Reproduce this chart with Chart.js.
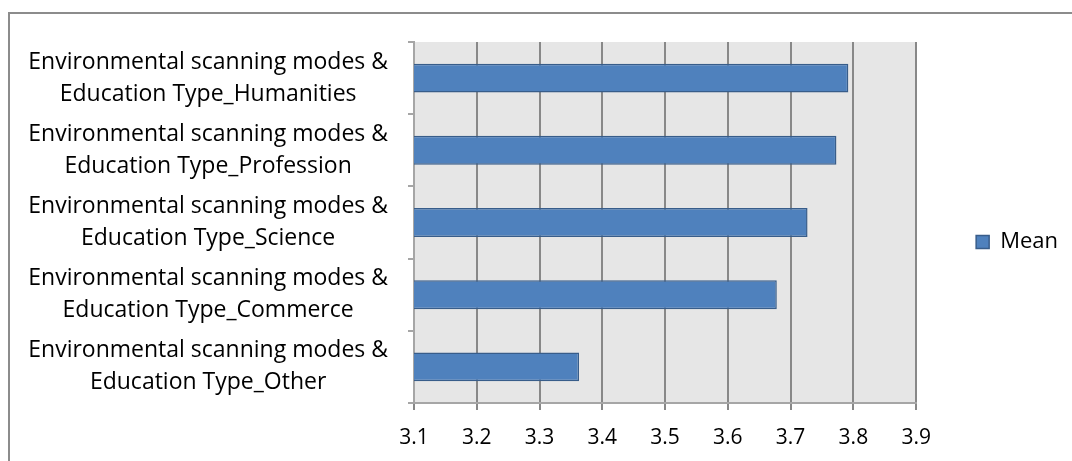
<!DOCTYPE html>
<html>
<head>
<meta charset="utf-8">
<script src="https://cdn.jsdelivr.net/npm/chart.js@4/dist/chart.umd.min.js"></script>
<style>
  html, body { margin: 0; padding: 0; background: #ffffff; }
  #wrap { position: relative; width: 1072px; height: 461px; }
</style>
</head>
<body>
<div id="wrap"><canvas id="chart" width="1072" height="461"></canvas></div>
<script>
// Mean score per education type (environmental scanning modes)
const categories = [
  ['Environmental scanning modes &', 'Education Type_Humanities'],
  ['Environmental scanning modes &', 'Education Type_Profession'],
  ['Environmental scanning modes &', 'Education Type_Science'],
  ['Environmental scanning modes &', 'Education Type_Commerce'],
  ['Environmental scanning modes &', 'Education Type_Other']
];
const meanValues = [3.792, 3.773, 3.727, 3.678, 3.363];
const seriesName = 'Mean';
const axisMin = 3.1;
const axisMax = 3.9;
const axisStep = 0.1;

const FONT = '"Open Sans", "Noto Sans", sans-serif';
Chart.defaults.font.family = FONT;
Chart.defaults.color = '#000000';

// grey plot area and outer frame
const frame = {
  id: 'frame',
  beforeDraw(chart) {
    const { ctx, chartArea: a } = chart;
    ctx.save();
    ctx.fillStyle = '#ffffff';
    ctx.fillRect(0, 0, chart.width, chart.height);
    ctx.fillStyle = '#e6e6e6';
    ctx.fillRect(a.left, a.top, a.right - a.left, a.bottom - a.top);
    ctx.strokeStyle = '#8c8c8c';
    ctx.lineWidth = 2;
    ctx.strokeRect(9, 13, 1100, 520);
    ctx.restore();
  }
};

// empty spacer axes that hold the plot away from the legend and the top frame
const spacer = (size, horizontal) => ({
  type: 'linear',
  display: true,
  grid: { display: false },
  border: { display: false },
  ticks: { display: false },
  afterFit: s => {
    if (horizontal) { s.height = size; s.paddingLeft = 0; s.paddingRight = 0; }
    else { s.width = size; s.paddingTop = 0; s.paddingBottom = 0; }
  }
});

new Chart(document.getElementById('chart'), {
  type: 'bar',
  data: {
    labels: categories,
    datasets: [{
      label: seriesName,
      data: meanValues,
      backgroundColor: '#4f81bd',
      borderColor: '#385d8a',
      borderWidth: 1.5,
      borderSkipped: false,
      categoryPercentage: 1.0,
      barPercentage: 0.4
    }]
  },
  options: {
    indexAxis: 'y',
    responsive: false,
    animation: false,
    layout: { padding: { top: 23, bottom: 0, left: 0, right: 4 } },
    scales: {
      x: {
        type: 'linear',
        position: 'bottom',
        min: axisMin,
        max: axisMax,
        ticks: {
          stepSize: axisStep,
          font: { size: 21 },
          padding: 15,
          callback: v => Number(v).toFixed(1)
        },
        grid: { color: '#888888', lineWidth: 2, tickLength: 7 },
        border: { color: '#a6a6a6', width: 2 },
        afterFit: s => { s.height = 58; s.paddingLeft = 0; s.paddingRight = 0; }
      },
      y: {
        type: 'category',
        position: 'left',
        ticks: {
          font: { size: 23, lineHeight: 1.39 },
          crossAlign: 'center',
          padding: 20
        },
        grid: { offset: true, drawOnChartArea: false, color: '#a6a6a6', lineWidth: 2, tickLength: 6 },
        border: { color: '#a6a6a6', width: 2 },
        afterFit: s => { s.width = 414; s.paddingTop = 0; s.paddingBottom = 0; }
      },
      gapTop: Object.assign(spacer(19, true), { position: 'top' }),
      gapRight: Object.assign(spacer(50, false), { position: 'right' })
    },
    plugins: {
      legend: {
        position: 'right',
        labels: {
          boxWidth: 13,
          boxHeight: 13,
          padding: 10,
          font: { size: 22 },
          color: '#000000'
        }
      },
      tooltip: { enabled: false }
    }
  },
  plugins: [frame]
});
</script>
</body>
</html>
